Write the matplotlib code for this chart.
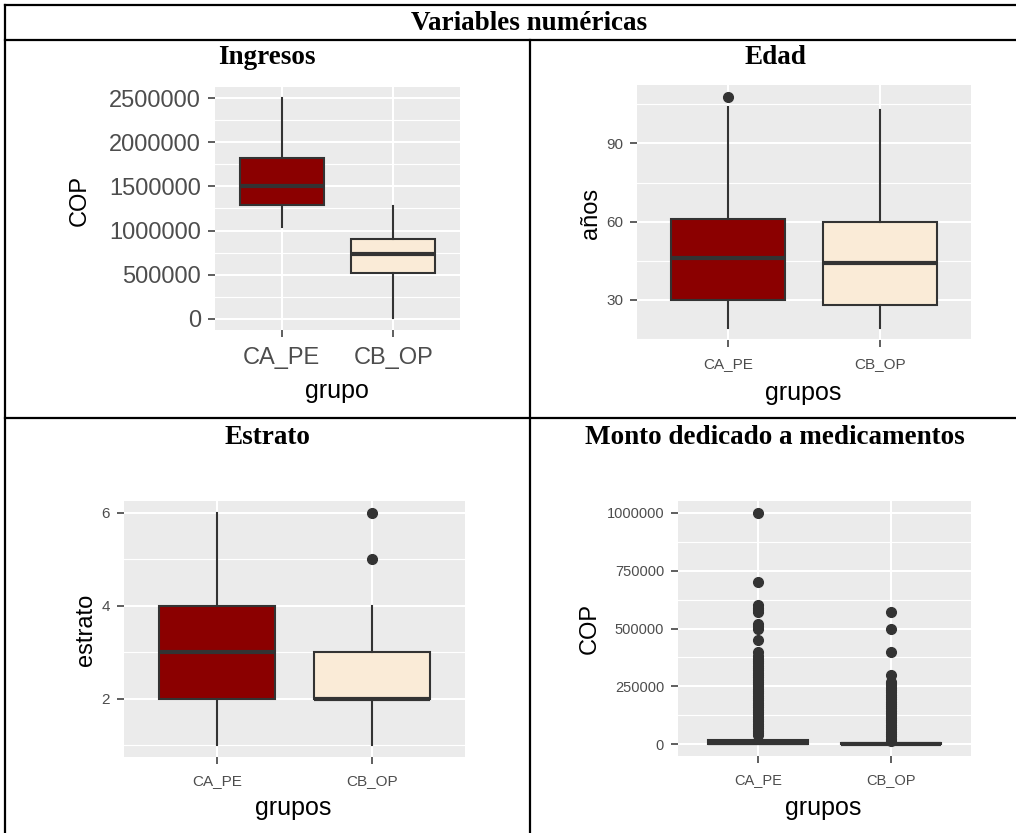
import numpy as np
import matplotlib
matplotlib.use('Agg')
import matplotlib.pyplot as plt
from matplotlib.lines import Line2D

# ── datos ──
grupos = ['CA_PE', 'CB_OP']
colores = ['#8B0000', '#FAEBD7']

# Ingresos (COP): [whislo, q1, med, q3, whishi]
ingresos_ca = [1040000, 1290000, 1500000, 1820000, 2500000]
ingresos_cb = [15000, 525000, 740000, 905000, 1280000]

# Edad (años)
edad_ca = [19, 30, 46, 61, 104]
edad_cb = [19, 28, 44, 60, 103]
edad_out_ca = [108]
edad_out_cb = []

# Estrato
estrato_ca = [1, 2, 3, 4, 6]
estrato_cb = [1, 2, 2, 3, 4]
estrato_out_ca = []
estrato_out_cb = [5, 6]

# Monto dedicado a medicamentos (COP)
monto_ca = [0, 0, 8000, 18000, 40000]
monto_cb = [0, 0, 3000, 8000, 15000]
monto_out_ca = [40000, 50000, 60000, 70000, 80000, 90000, 100000, 110000,
                120000, 130000, 140000, 150000, 160000, 170000, 180000,
                190000, 200000, 210000, 220000, 230000, 240000, 250000,
                260000, 270000, 280000, 290000, 300000, 310000, 320000,
                330000, 340000, 350000, 360000, 370000, 380000, 400000,
                450000, 500000, 510000, 520000, 570000, 580000, 590000,
                600000, 700000, 1000000]
monto_out_cb = [15000, 25000, 35000, 45000, 55000, 65000, 75000, 85000,
                95000, 105000, 115000, 125000, 135000, 145000, 155000,
                165000, 175000, 185000, 195000, 205000, 215000, 225000,
                235000, 245000, 255000, 265000, 270000, 300000, 400000,
                500000, 570000]

W, H = 1016, 833
fig = plt.figure(figsize=(W / 100, H / 100), dpi=100)
fig.patch.set_facecolor('white')

SANS = ['Liberation Sans', 'DejaVu Sans']
SERIF = ['Liberation Serif', 'DejaVu Serif']


def add_panel(x0, y0, x1, y1):
    return fig.add_axes([x0 / W, 1 - y1 / H, (x1 - x0) / W, (y1 - y0) / H])


def caja(ax, s_ca, s_cb, out_ca, out_cb, ylim, major, minor,
         tick_fs, ylabel, xlabel, ylab_px, xlab_px, panel):
    stats = []
    for s, out, g in [(s_ca, out_ca, grupos[0]), (s_cb, out_cb, grupos[1])]:
        stats.append(dict(whislo=s[0], q1=s[1], med=s[2], q3=s[3], whishi=s[4],
                          fliers=np.array(out), label=g))
    ax.set_facecolor('#EBEBEB')
    for v in minor:
        ax.axhline(v, color='white', lw=0.8, zorder=0)
    for v in major:
        ax.axhline(v, color='white', lw=1.5, zorder=0)
    for v in [1, 2]:
        ax.axvline(v, color='white', lw=1.5, zorder=0)
    bp = ax.bxp(stats, positions=[1, 2], widths=0.75, patch_artist=True,
                showcaps=False,
                boxprops=dict(edgecolor='#333333', linewidth=1.5),
                whiskerprops=dict(color='#333333', linewidth=1.5),
                medianprops=dict(color='#333333', linewidth=3.0),
                flierprops=dict(marker='o', markerfacecolor='#333333',
                                markeredgecolor='#333333', markersize=7))
    for patch, c in zip(bp['boxes'], colores):
        patch.set_facecolor(c)
    ax.set_xlim(0.4, 2.6)
    ax.set_ylim(*ylim)
    ax.set_yticks(major)
    ax.set_yticklabels([str(int(v)) for v in major])
    for s in ax.spines.values():
        s.set_visible(False)
    ax.tick_params(length=5, width=1.1, color='#333333', labelcolor='#4D4D4D',
                   labelsize=tick_fs)
    ax.tick_params(axis='x', pad=7)
    ax.tick_params(axis='y', pad=5)
    for lab in ax.get_xticklabels() + ax.get_yticklabels():
        lab.set_family(SANS)
    ax.set_xlabel('')
    ax.set_ylabel('')
    # títulos de ejes en coordenadas de píxel
    x0, y0, x1, y1 = panel
    ax.text((ylab_px[0] - x0) / (x1 - x0), (y1 - ylab_px[1]) / (y1 - y0), ylabel,
            transform=ax.transAxes, rotation=90, ha='center', va='center',
            fontsize=17, family=SANS, color='black')
    ax.text((xlab_px[0] - x0) / (x1 - x0), (y1 - xlab_px[1]) / (y1 - y0), xlabel,
            transform=ax.transAxes, ha='center', va='center',
            fontsize=18, family=SANS, color='black')


# ── Ingresos ──
p1 = (215, 87, 460, 330)
ax1 = add_panel(*p1)
caja(ax1, ingresos_ca, ingresos_cb, [], [], (-125000, 2625000),
     [0, 500000, 1000000, 1500000, 2000000, 2500000],
     [250000, 750000, 1250000, 1750000, 2250000],
     17, 'COP', 'grupo', (80, 200), (337, 391), p1)

# ── Edad ──
p2 = (637, 85, 971, 340)
ax2 = add_panel(*p2)
rng = max(edad_out_ca + [edad_ca[4], edad_cb[4]]) - min(edad_ca[0], edad_cb[0])
caja(ax2, edad_ca, edad_cb, edad_out_ca, edad_out_cb,
     (19 - 0.05 * rng, 108 + 0.05 * rng), [30, 60, 90], [15, 45, 75, 105],
     11, 'años', 'grupos', (591, 213), (803, 393), p2)

# ── Estrato ──
p3 = (124, 501, 465, 757)
ax3 = add_panel(*p3)
caja(ax3, estrato_ca, estrato_cb, estrato_out_ca, estrato_out_cb,
     (0.75, 6.25), [2, 4, 6], [1, 3, 5],
     11, 'estrato', 'grupos', (86, 630), (293, 808), p3)

# ── Monto ──
p4 = (678, 501, 971, 756)
ax4 = add_panel(*p4)
caja(ax4, monto_ca, monto_cb, monto_out_ca, monto_out_cb,
     (-50000, 1050000), [0, 250000, 500000, 750000, 1000000],
     [125000, 375000, 625000, 875000],
     10.5, 'COP', 'grupos', (590, 628), (823, 808), p4)

# ── tabla ──
def linea(xa, ya, xb, yb):
    fig.add_artist(Line2D([xa / W, xb / W], [1 - ya / H, 1 - yb / H],
                          color='black', lw=1.6, transform=fig.transFigure))

linea(5, 5, W, 5)
linea(5, 40, W, 40)
linea(5, 418, W, 418)
linea(5, 5, 5, H)
linea(530, 40, 530, H)

def titulo(x, y, s):
    fig.text(x / W, 1 - y / H, s, ha='center', va='center', fontsize=19.5,
             fontweight='bold', family=SERIF)

titulo(529, 23, 'Variables numéricas')
titulo(267, 58, 'Ingresos')
titulo(775, 58, 'Edad')
titulo(267, 437, 'Estrato')
titulo(775, 437, 'Monto dedicado a medicamentos')

plt.savefig('out.png', dpi=100)
plt.close()
